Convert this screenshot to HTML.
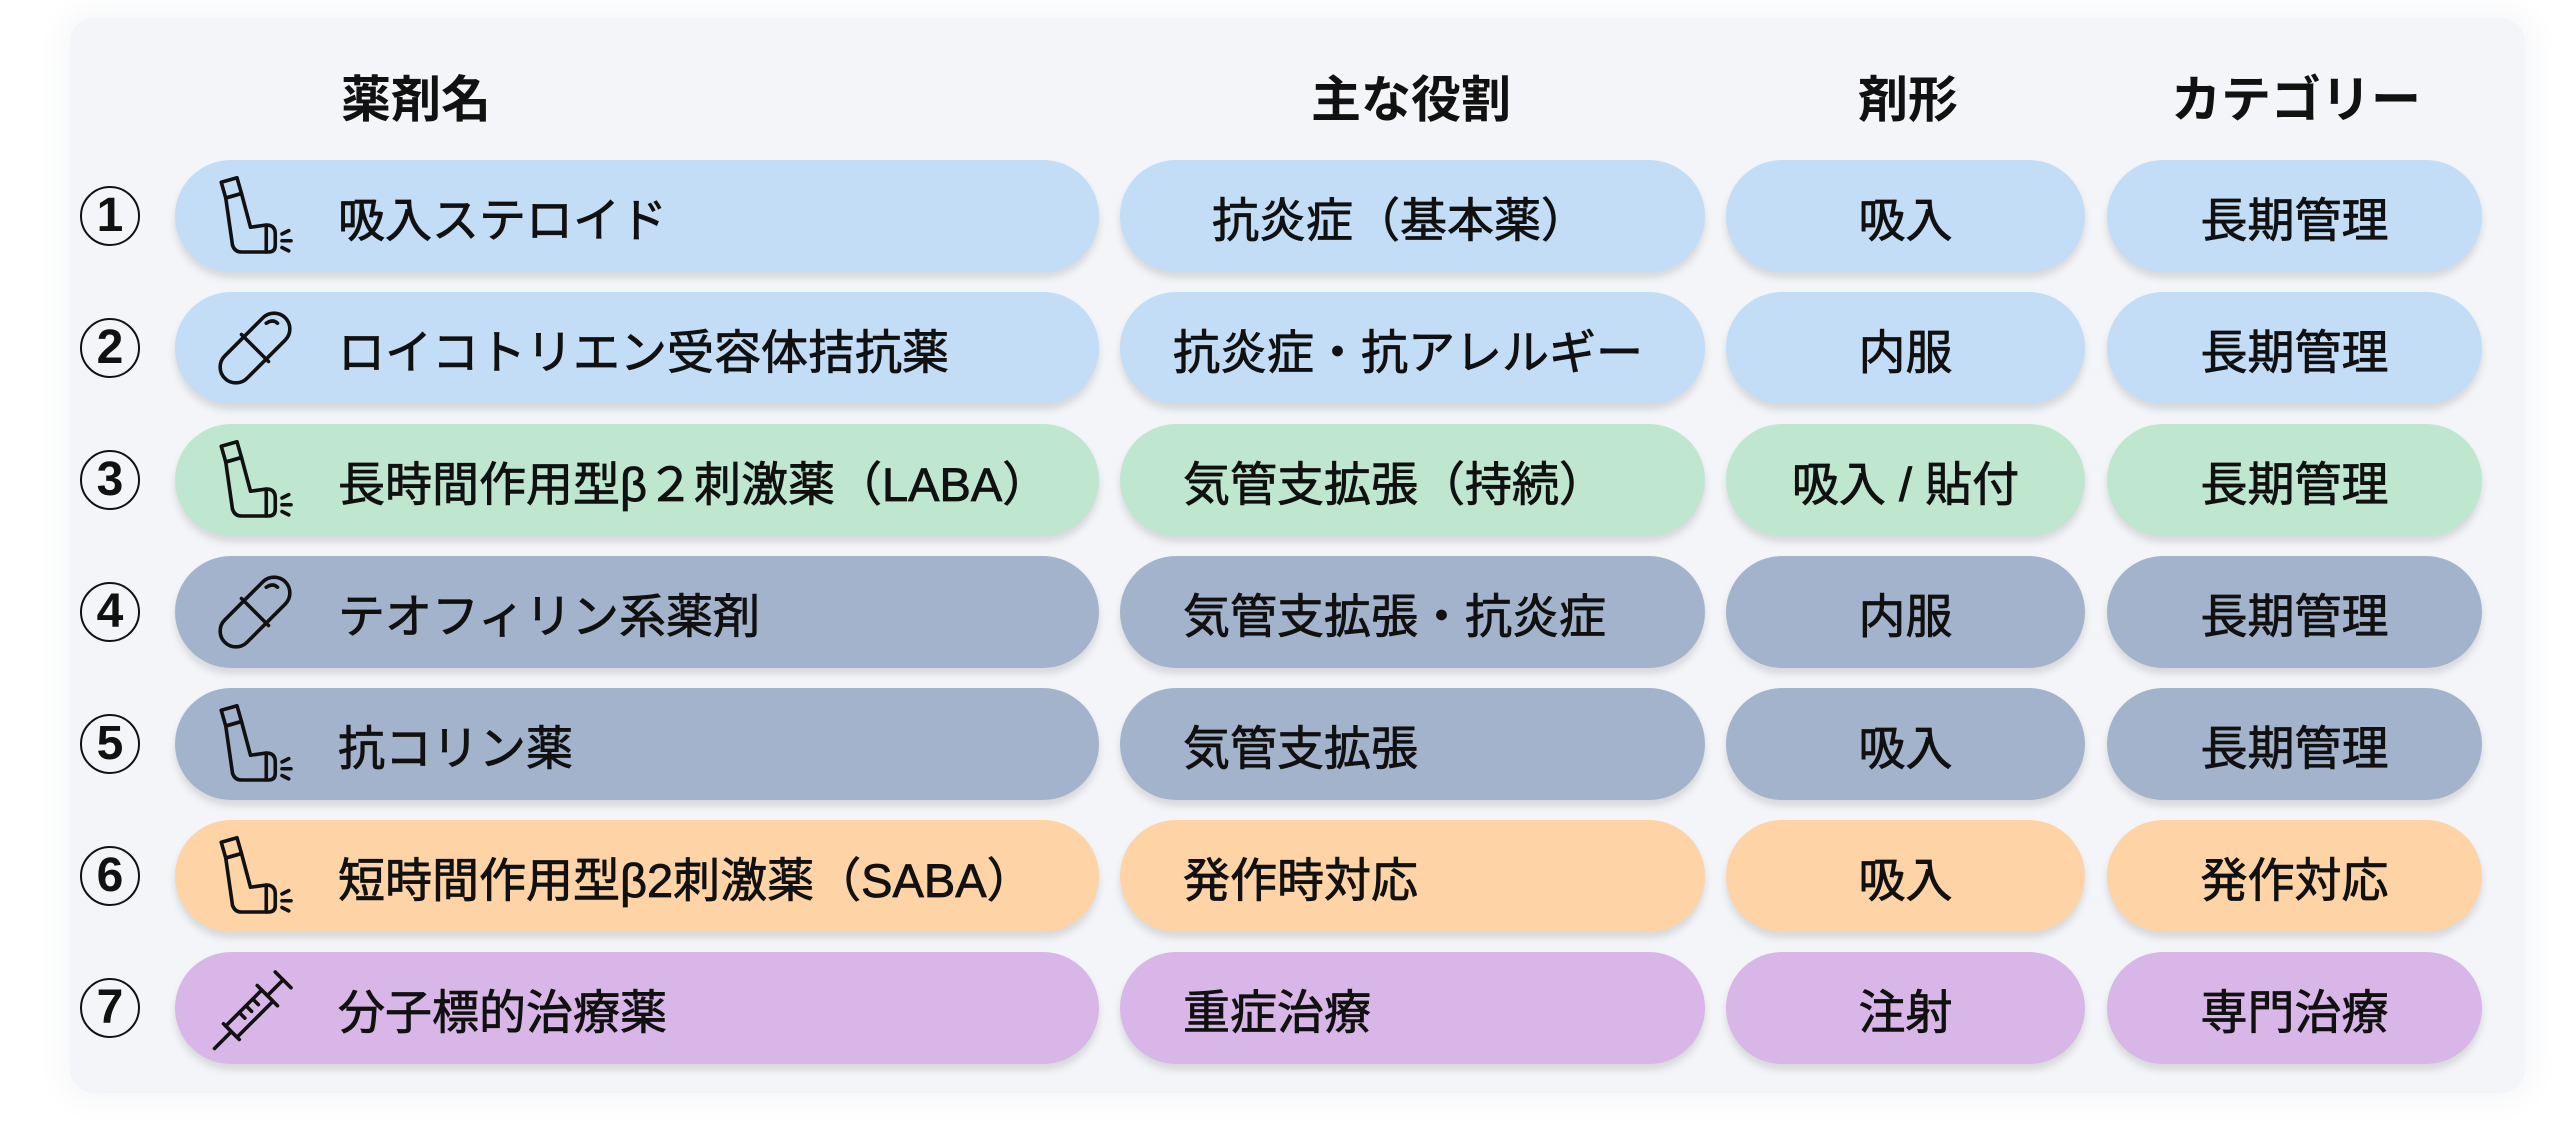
<!DOCTYPE html>
<html><head><meta charset="utf-8">
<style>
html,body{margin:0;padding:0;}
body{width:2560px;height:1129px;background:#fff;position:relative;overflow:hidden;font-family:"Liberation Sans","Noto Sans CJK JP",sans-serif;color:#111;}
.card{position:absolute;left:70px;top:18px;width:2455px;height:1075px;background:#f3f5f8;border-radius:24px;box-shadow:0 0 30px 10px #f6f7f9;}
.h{position:absolute;top:70px;font-size:50px;font-weight:bold;line-height:60px;transform:translateX(-50%);white-space:nowrap;}
.p{position:absolute;height:112px;border-radius:56px;box-shadow:0 6px 8px rgba(0,0,0,0.12);display:flex;align-items:center;font-size:47px;white-space:nowrap;-webkit-text-stroke:0.8px #111;}
.c{justify-content:center;}
.num{position:absolute;left:80px;width:60px;height:60px;border:2.5px solid #111;border-radius:50%;font-size:48px;font-weight:bold;display:flex;align-items:center;justify-content:center;line-height:1;box-sizing:border-box;}
.b{background:#c3ddf7;} .g{background:#bfe7cf;} .s{background:#a4b3cc;} .o{background:#fed3a6;} .v{background:#d8b6e7;}
svg.i{position:absolute;left:210px;}
</style></head><body>
<div class="card"></div>
<div class="h" style="left:416px">薬剤名</div>
<div class="h" style="left:1411px">主な役割</div>
<div class="h" style="left:1908px">剤形</div>
<div class="h" style="left:2296px">カテゴリー</div>

<div class="num" style="top:186px">1</div>
<div class="p b" style="left:175px;top:160px;width:924px"><span style="margin-left:163px">吸入ステロイド</span></div>
<div class="p b" style="left:1120px;top:160px;width:585px"><span style="margin-left:92px">抗炎症（基本薬）</span></div>
<div class="p b c" style="left:1726px;top:160px;width:359px">吸入</div>
<div class="p b c" style="left:2107px;top:160px;width:375px">長期管理</div>

<div class="num" style="top:318px">2</div>
<div class="p b" style="left:175px;top:292px;width:924px"><span style="margin-left:163px">ロイコトリエン受容体拮抗薬</span></div>
<div class="p b" style="left:1120px;top:292px;width:585px"><span style="margin-left:53px">抗炎症・抗アレルギー</span></div>
<div class="p b c" style="left:1726px;top:292px;width:359px">内服</div>
<div class="p b c" style="left:2107px;top:292px;width:375px">長期管理</div>

<div class="num" style="top:450px">3</div>
<div class="p g" style="left:175px;top:424px;width:924px"><span style="margin-left:163px">長時間作用型β２刺激薬（LABA）</span></div>
<div class="p g" style="left:1120px;top:424px;width:585px"><span style="margin-left:63px">気管支拡張（持続）</span></div>
<div class="p g c" style="left:1726px;top:424px;width:359px">吸入 / 貼付</div>
<div class="p g c" style="left:2107px;top:424px;width:375px">長期管理</div>

<div class="num" style="top:582px">4</div>
<div class="p s" style="left:175px;top:556px;width:924px"><span style="margin-left:163px">テオフィリン系薬剤</span></div>
<div class="p s" style="left:1120px;top:556px;width:585px"><span style="margin-left:63px">気管支拡張・抗炎症</span></div>
<div class="p s c" style="left:1726px;top:556px;width:359px">内服</div>
<div class="p s c" style="left:2107px;top:556px;width:375px">長期管理</div>

<div class="num" style="top:714px">5</div>
<div class="p s" style="left:175px;top:688px;width:924px"><span style="margin-left:163px">抗コリン薬</span></div>
<div class="p s" style="left:1120px;top:688px;width:585px"><span style="margin-left:63px">気管支拡張</span></div>
<div class="p s c" style="left:1726px;top:688px;width:359px">吸入</div>
<div class="p s c" style="left:2107px;top:688px;width:375px">長期管理</div>

<div class="num" style="top:846px">6</div>
<div class="p o" style="left:175px;top:820px;width:924px"><span style="margin-left:163px">短時間作用型β2刺激薬（SABA）</span></div>
<div class="p o" style="left:1120px;top:820px;width:585px"><span style="margin-left:63px">発作時対応</span></div>
<div class="p o c" style="left:1726px;top:820px;width:359px">吸入</div>
<div class="p o c" style="left:2107px;top:820px;width:375px">発作対応</div>

<div class="num" style="top:978px">7</div>
<div class="p v" style="left:175px;top:952px;width:924px"><span style="margin-left:163px">分子標的治療薬</span></div>
<div class="p v" style="left:1120px;top:952px;width:585px"><span style="margin-left:63px">重症治療</span></div>
<div class="p v c" style="left:1726px;top:952px;width:359px">注射</div>
<div class="p v c" style="left:2107px;top:952px;width:375px">専門治療</div>

<svg width="0" height="0" style="position:absolute">
<defs>
<g id="inh" fill="none" stroke="#111" stroke-width="3.2" stroke-linejoin="round" stroke-linecap="round">
<path d="M10 10 L24 6 L28 20 L14 24 Z"/>
<path d="M14 24 L28 20 L36 50 L50 48 Q58 48 58 56 L58 66 Q58 72 52 72 L28 72 Q22 72 20 66 Z"/>
<path d="M50 48 L50 72"/>
<path d="M64 56 L70 53 M64 62 L72 62 M64 68 L70 71"/>
</g>
<g id="pill" fill="none" stroke="#111" stroke-width="3.2" stroke-linecap="round">
<rect x="-14" y="-38" width="28" height="76" rx="14" transform="translate(40,40) rotate(45)"/>
<path d="M28 28 L52 52"/>
<path d="M50 18 Q56 14 60 18"/>
</g>
<g id="syr" fill="none" stroke="#111" stroke-width="3.2" stroke-linecap="round" stroke-linejoin="round">
<path d="M4 76 L18 62"/>
<path d="M14 56 L24 66 L56 34 L46 24 Z"/>
<path d="M12 54 L26 68"/>
<path d="M42 20 L60 38"/>
<path d="M51 29 L64 16 M58 8 L72 22"/>
<path d="M26 44 L31 49 M32 38 L37 43 M38 32 L43 37"/>
</g>
</defs>
</svg>
<svg class="i" style="top:171px" width="90" height="90" viewBox="0 0 80 80"><use href="#inh"/></svg>
<svg class="i" style="top:303px" width="90" height="90" viewBox="0 0 80 80"><use href="#pill"/></svg>
<svg class="i" style="top:435px" width="90" height="90" viewBox="0 0 80 80"><use href="#inh"/></svg>
<svg class="i" style="top:567px" width="90" height="90" viewBox="0 0 80 80"><use href="#pill"/></svg>
<svg class="i" style="top:699px" width="90" height="90" viewBox="0 0 80 80"><use href="#inh"/></svg>
<svg class="i" style="top:831px" width="90" height="90" viewBox="0 0 80 80"><use href="#inh"/></svg>
<svg class="i" style="top:963px" width="90" height="90" viewBox="0 0 80 80"><use href="#syr"/></svg>
</body></html>
